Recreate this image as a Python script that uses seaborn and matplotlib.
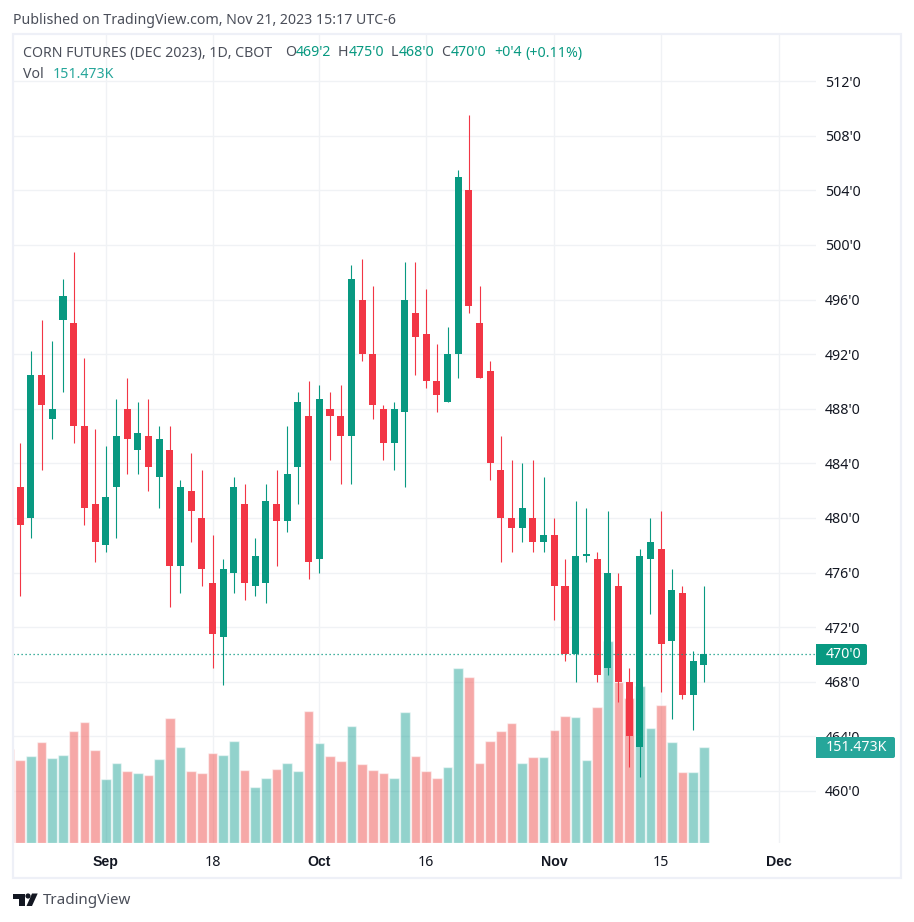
import numpy as np
import pandas as pd
import seaborn as sns
import matplotlib.pyplot as plt
from matplotlib.patches import Ellipse, FancyBboxPatch, Polygon, Rectangle

opens = [482.25, 480, 490.5, 487.25, 494.5, 494.25, 486.75, 481, 478, 482.25,
         488, 485, 486, 483, 485, 476.5, 482, 480, 475.25, 471.25,
         476, 481, 475, 475.25, 481, 479.75, 483.75, 487.5, 477, 488,
         487.5, 486, 496, 492, 488, 485.5, 487.75, 495, 493.5, 490,
         488.5, 492, 504, 494.25, 490.75, 483.5, 480, 479.25, 480, 478.25,
         478.75, 475, 470, 477.25, 477, 469, 475, 468, 463.25, 477,
         477.75, 471, 474.5, 467, 469.25]
highs = [485.5, 492.25, 494.5, 493, 497.5, 499.5, 491.75, 486.5, 485.25, 488.75,
         490.25, 488.5, 488.75, 486.75, 486.75, 482.75, 484.75, 483.5, 478.75, 477,
         483, 482.5, 478.5, 482.5, 483.5, 486.75, 489.25, 490, 489.75, 489.25,
         489.75, 498.5, 499, 497, 488.25, 488.5, 498.75, 498.75, 496.75, 492.75,
         494, 505.5, 509.5, 497, 491.5, 486, 484.25, 484, 484.25, 483,
         480, 477, 481.25, 480.75, 477.5, 480.5, 476, 469, 477.75, 480,
         480.5, 476.25, 475, 470.25, 475]
lows = [474.25, 478.5, 483.5, 485.75, 489.25, 485.5, 479.5, 476.75, 477.5, 478.5,
        483.25, 483.25, 482, 480.75, 473.5, 474.5, 478.25, 475, 469, 467.75,
        474.5, 474, 474.25, 473.75, 476.5, 479, 481, 475.5, 476, 484.25,
        482.5, 482.5, 491.5, 487.25, 484.25, 483.5, 482.25, 490.5, 489.5, 487.75,
        488.5, 490.25, 495, 490.25, 482.75, 476.75, 477.5, 478.25, 477.5, 477.5,
        472.5, 469.5, 468, 476.75, 468, 468.5, 466.5, 461.75, 461, 473,
        467.25, 465.25, 466.75, 464.5, 468]
closes = [479.5, 490.5, 488.25, 488, 496.25, 486.75, 480.75, 478.25, 481.5, 486,
          485.75, 486.25, 483.75, 485.75, 476.5, 482.25, 480.5, 476.25, 471.5, 476.25,
          482.25, 475.25, 477.25, 481.25, 479.75, 483.25, 488.5, 476.75, 488.75, 487.5,
          486, 497.5, 492, 488.25, 485.5, 488, 496, 493.25, 490, 489,
          492, 505, 495.5, 490.25, 484, 480, 479.25, 480.75, 478.25, 478.75,
          475, 470, 477.25, 477.25, 468.5, 476, 468, 464, 477.25, 478.25,
          470.75, 474.75, 467, 469.5, 470]

# volume in thousands, the first bar is the session cut off by the left edge
volumes = [148, 131, 137, 159, 134, 139, 177, 191, 147, 101,
           126, 114, 110, 107, 133, 197, 151, 114, 110, 142,
           139, 161, 115, 88, 103, 117, 126, 114, 208, 158,
           137, 129, 185, 125, 115, 110, 103, 207, 137, 114,
           103, 120, 276, 262, 126, 161, 177, 189, 126, 136,
           136, 178, 200, 199, 131, 215, 319, 254, 229, 248,
           181, 218, 159, 112, 112, 151.473]

date_ticks = [8, 18, 28, 38, 50, 60, 71]
date_labels = ['Sep', '18', 'Oct', '16', 'Nov', '15', 'Dec']
bold_labels = ['Sep', 'Oct', 'Nov', 'Dec']
price_ticks = list(range(460, 516, 4))

up = '#089981'
down = '#F23645'
vol_up = '#26A69A'
vol_down = '#EF5350'
grid = '#F0F2F5'
frame = '#EEF0F7'
text_dark = '#131722'
text_mid = '#4A4E59'

W, H = 914, 922
FS = 10.2


def fx(x):
    return x / W


def fy(y):
    return 1 - y / H


def label(x, y, s, color=text_mid, size=FS, **kw):
    fig.text(fx(x), fy(y), s, color=color, fontsize=size, va='center', **kw)


sns.set_theme(style='white')
plt.rcParams['font.family'] = ['Noto Sans', 'DejaVu Sans']

fig = plt.figure(figsize=(W / 100, H / 100), dpi=100, facecolor='white')
ax = fig.add_axes([fx(13), fy(843), fx(816 - 13), (843 - 35) / H])
ax_vol = ax.twinx()
ax_c = ax.twinx()

xlim = (-0.68, 74.5)
ylim = (456.19, 515.38)

# volume
vol_df = pd.DataFrame({
    'pos': np.arange(-1, len(closes)),
    'volume': volumes,
    'side': ['down'] + ['up' if c >= o else 'down' for o, c in zip(opens, closes)],
})
sns.barplot(data=vol_df, x='pos', y='volume', hue='side', ax=ax_vol, native_scale=True,
            palette={'up': vol_up, 'down': vol_down}, saturation=1, alpha=0.5,
            width=0.9, dodge=False, legend=False)
ax_vol.set_ylim(0, 808 * 151.473 / 96)
ax_vol.axis('off')

# candles
ax_c.set_ylim(ylim)
ax_c.axis('off')
for i, (o, h, l, c) in enumerate(zip(opens, highs, lows, closes)):
    col = up if c >= o else down
    ax_c.vlines(i, l, h, color=col, linewidth=0.8)
    body = max(abs(c - o), 0.08)
    ax_c.bar(i, body, bottom=min(o, c), width=0.66, color=col, linewidth=0)

ax_c.axhline(closes[-1], color=up, linewidth=0.9, linestyle=(0, (1, 2.2)))

# grid and labels live on the bottom axes, set last because the twins share x
ax.set_xlim(xlim)
ax.set_ylim(ylim)
ax.set_yticks(price_ticks)
ax.set_yticklabels([f"{p}'0" for p in price_ticks])
ax.yaxis.tick_right()
ax.set_xticks(date_ticks)
ax.set_xticklabels(date_labels)
ax.tick_params(axis='y', length=0, pad=6.5, labelsize=FS, labelcolor=text_dark)
ax.tick_params(axis='x', length=0, pad=8.5, labelsize=FS, labelcolor=text_dark)
# Noto Sans has no bold face here
for t in ax.get_xticklabels():
    if t.get_text() in bold_labels:
        t.set_fontfamily('Liberation Sans')
        t.set_fontweight('bold')
ax.grid(True, color=grid, linewidth=1.0)
for s in ax.spines.values():
    s.set_visible(False)

# frame
fig.add_artist(Rectangle((fx(13), fy(878)), fx(901 - 13), (878 - 34) / H, transform=fig.transFigure,
                         fill=False, edgecolor=frame, linewidth=1.6))

# last value tags, rounded on the outer side only
for x1, y0, y1, col, txt in [(867, 644, 665, up, "470'0"),
                             (895, 737, 758, vol_up, '151.473K')]:
    fig.add_artist(FancyBboxPatch((816, H - y1), x1 - 816, y1 - y0, boxstyle='round,pad=0,rounding_size=2',
                                  transform=None, facecolor=col, edgecolor='none'))
    fig.add_artist(Rectangle((816, H - y1), 10, y1 - y0, transform=None, facecolor=col, edgecolor='none'))
    label(826, (y0 + y1) / 2, txt, color='white', zorder=5)

# header and legend text
label(13, 20, 'Published on TradingView.com, Nov 21, 2023 15:17 UTC-6')
label(23, 53, 'CORN FUTURES (DEC 2023), 1D, CBOT')
label(23, 75, 'Vol')
label(53, 75, '151.473K', color=vol_up)
for x, s in [(285, 'O'), (338, 'H'), (391, 'L'), (441, 'C')]:
    label(x, 53, s)
for x, s in [(296, "469'2"), (349, "475'0"), (399, "468'0"), (451, "470'0"), (494, "+0'4"), (525, '(+0.11%)')]:
    label(x, 53, s, color=up)

# logo
logo = '#131722'
fig.add_artist(Polygon([(fx(13), fy(893.5)), (fx(24.5), fy(893.5)), (fx(24.5), fy(906)),
                        (fx(18.5), fy(906)), (fx(18.5), fy(898.5)), (fx(13), fy(898.5))],
                       transform=fig.transFigure, facecolor=logo, edgecolor='none'))
fig.add_artist(Polygon([(fx(32), fy(893.5)), (fx(37.7), fy(893.5)), (fx(32), fy(906)), (fx(26.5), fy(906))],
                       transform=fig.transFigure, facecolor=logo, edgecolor='none'))
fig.add_artist(Ellipse((fx(28), fy(896)), 5.2 / W, 5.2 / H, transform=fig.transFigure, facecolor=logo, edgecolor='none'))
label(43, 900, 'TradingView', size=10.9)

fig.savefig('out.png', dpi=100)
